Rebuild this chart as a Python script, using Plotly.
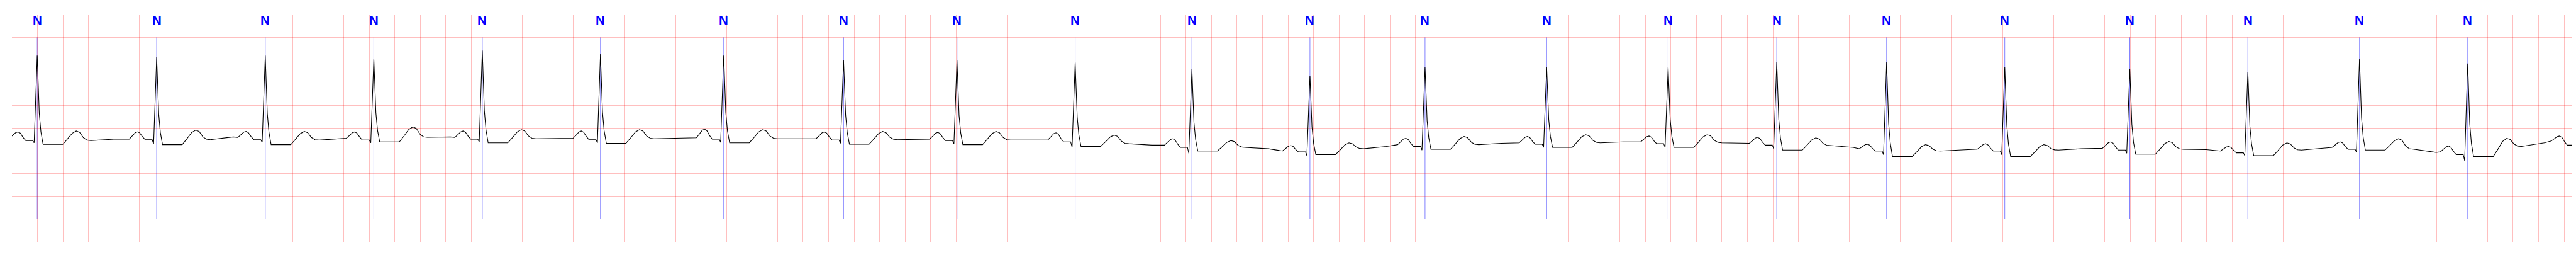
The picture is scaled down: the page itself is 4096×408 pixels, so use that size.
import plotly.graph_objects as go

# ---------------- data ----------------
# R-peak times (s) of each annotated beat (+ one beat just beyond the right edge)
r_time = [0.198, 1.134, 1.985, 2.836, 3.686, 4.612, 5.578, 6.517, 7.406, 8.332,
          9.247, 10.172, 11.074, 12.027, 12.979, 13.830, 14.691, 15.617, 16.597,
          17.522, 18.397, 19.245, 20.115]
beat_label = ["N"] * 23
# levels (mV)
r_amp = [1.60, 1.565, 1.60, 1.53, 1.71, 1.63, 1.60, 1.49, 1.49, 1.446,
         1.30, 1.16, 1.34, 1.34, 1.34, 1.45, 1.45, 1.34, 1.31, 1.24,
         1.53, 1.425, 1.50]
p_onset = [-0.21, -0.24, -0.20, -0.22, -0.20, -0.22, -0.21, -0.23, -0.24, -0.26,
           -0.37, -0.50, -0.36, -0.32, -0.30, -0.33, -0.45, -0.46, -0.44, -0.50,
           -0.42, -0.52, -0.28]
p_peak = [-0.08, -0.078, -0.07, -0.08, -0.06, -0.06, -0.02, -0.08, -0.09, -0.10,
          -0.23, -0.38, -0.22, -0.18, -0.17, -0.20, -0.35, -0.34, -0.30, -0.40,
          -0.30, -0.39, -0.17]
pr_level = [-0.27, -0.25, -0.25, -0.26, -0.24, -0.25, -0.24, -0.26, -0.27, -0.30,
            -0.42, -0.52, -0.40, -0.35, -0.34, -0.37, -0.50, -0.50, -0.48, -0.54,
            -0.46, -0.58, -0.37]
q_level = [-0.32, -0.35, -0.31, -0.32, -0.30, -0.32, -0.31, -0.33, -0.34, -0.42,
           -0.55, -0.60, -0.48, -0.42, -0.42, -0.45, -0.58, -0.58, -0.55, -0.60,
           -0.52, -0.71, -0.45]
st_level = [-0.355, -0.36, -0.36, -0.30, -0.32, -0.33, -0.32, -0.35, -0.36, -0.40,
            -0.50, -0.58, -0.46, -0.42, -0.42, -0.48, -0.62, -0.62, -0.57, -0.60,
            -0.48, -0.62, -0.45]
t_peak = [-0.06, -0.04, -0.07, 0.03, -0.03, -0.03, -0.03, -0.07, -0.07, -0.15,
          -0.27, -0.32, -0.18, -0.14, -0.14, -0.21, -0.36, -0.36, -0.29, -0.32,
          -0.23, -0.22, -0.20]
t_end = [-0.27, -0.25, -0.26, -0.20, -0.23, -0.23, -0.23, -0.25, -0.26, -0.34,
         -0.42, -0.45, -0.36, -0.32, -0.32, -0.38, -0.50, -0.48, -0.46, -0.48,
         -0.46, -0.40, -0.40]
tp_mid = [-0.24, -0.19, -0.22, -0.19, -0.22, -0.22, -0.23, -0.24, -0.26, -0.37,
          -0.45, -0.40, -0.33, -0.30, -0.32, -0.42, -0.48, -0.45, -0.47, -0.44,
          -0.53, -0.32, -0.40]

# beat shape: time offset from R (s) of each landmark,
# and where each landmark sits between its two reference levels (0..1)
tmpl_off = [-0.215, -0.19, -0.168, -0.150, -0.132, -0.11, -0.09, -0.035, -0.024,
            0.0, 0.016, 0.029, 0.046, 0.12, 0.200, 0.236, 0.274, 0.306, 0.333,
            0.362, 0.39, 0.42, 0.60]
tmpl_kind = ["pon", "p_up", "p_up2", "p", "p_dn", "p_dn2", "pr", "pr", "q",
             "r", "s1", "s2", "st", "st", "st", "t39", "t83", "t", "td85",
             "td30", "td05", "te", "tm"]
tmpl_frac = {"p_up": 0.45, "p_up2": 0.88, "p_dn": 0.85, "p_dn2": 0.35,
             "s1": 0.35, "s2": 0.14, "t39": 0.39, "t83": 0.83,
             "td85": 0.85, "td30": 0.30, "td05": 0.05}

x_max = 20.064

# ---------------- build the trace ----------------
xs, ys = [], []
for i, tr in enumerate(r_time):
    lv = dict(pon=p_onset[i], p=p_peak[i], pr=pr_level[i], q=q_level[i],
              r=r_amp[i], st=st_level[i], t=t_peak[i], te=t_end[i], tm=tp_mid[i])
    for off, kind in zip(tmpl_off, tmpl_kind):
        if kind in lv:
            v = lv[kind]
        elif kind.startswith("p_up"):
            v = lv["pon"] + tmpl_frac[kind] * (lv["p"] - lv["pon"])
        elif kind.startswith("p_dn"):
            v = lv["pr"] + tmpl_frac[kind] * (lv["p"] - lv["pr"])
        elif kind.startswith("s"):
            v = lv["st"] + tmpl_frac[kind] * (lv["r"] - lv["st"])
        elif kind.startswith("td"):
            v = lv["te"] + tmpl_frac[kind] * (lv["t"] - lv["te"])
        else:
            v = lv["st"] + tmpl_frac[kind] * (lv["t"] - lv["st"])
        xs.append(round(tr + off, 4))
        ys.append(round(v, 4))

fig = go.Figure()
fig.add_trace(go.Scatter(x=xs, y=ys, mode="lines",
                         line=dict(color="black", width=1.1),
                         hoverinfo="skip", showlegend=False))

for tr, lab in zip(r_time, beat_label):
    if tr > x_max:
        continue
    fig.add_shape(type="line", xref="x", yref="y", x0=tr, x1=tr, y0=-2, y1=2,
                  line=dict(color="rgba(0,0,255,0.5)", width=1), layer="below")
    fig.add_annotation(x=tr, y=0.9794, xref="x", yref="paper", text=lab,
                       showarrow=False, yanchor="middle", xanchor="center",
                       font=dict(family="Liberation Sans, Arial, sans-serif",
                                 size=20.5, color="blue", weight="bold"))

grid = "rgba(255,0,0,0.25)"
fig.update_xaxes(range=[0, x_max], tick0=0, dtick=0.2, showgrid=True,
                 gridcolor=grid, gridwidth=1.1, zeroline=False,
                 showticklabels=False, ticks="", showline=False)
fig.update_yaxes(range=[-2.5, 2.49], tick0=0, dtick=0.5, showgrid=True,
                 gridcolor=grid, gridwidth=1.1, zeroline=False,
                 showticklabels=False, ticks="", showline=False)
fig.update_layout(width=4096, height=408,
                  margin=dict(l=18.7, r=6, t=23.9, b=24.1, pad=0),
                  paper_bgcolor="white", plot_bgcolor="white",
                  showlegend=False)

fig.write_html("out.html", config={"displayModeBar": False},
               post_script="document.body.style.margin='0';document.body.style.overflow='hidden';")
